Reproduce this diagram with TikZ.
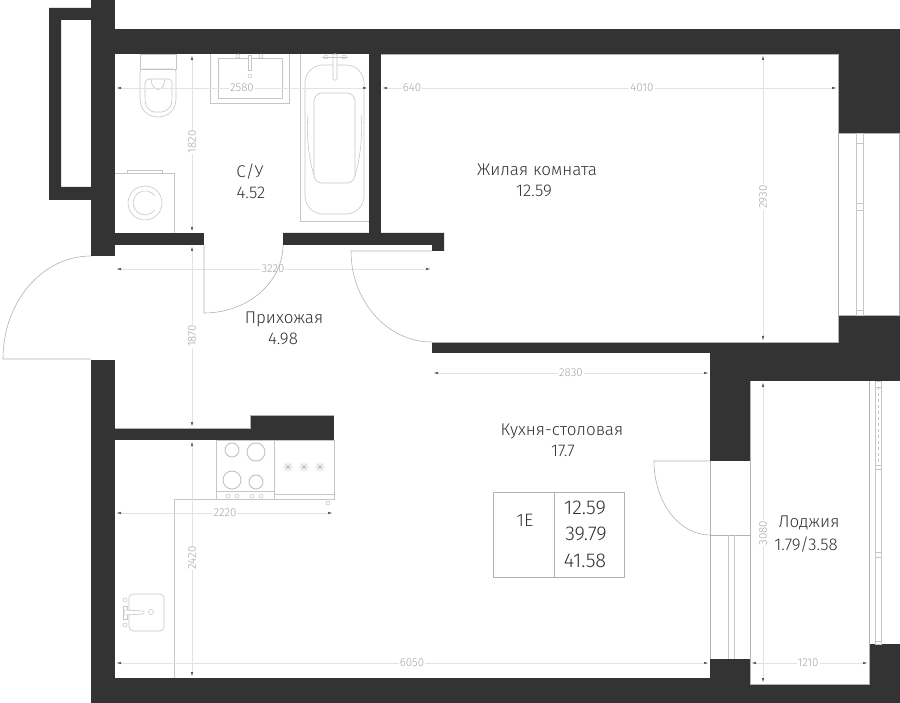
\documentclass[tikz,border=0pt]{standalone}
\usepackage{fontspec}
\setmainfont{Fira Sans}[UprightFont=* Light]
\usetikzlibrary{arrows.meta}
\definecolor{wallgray}{HTML}{333333}
\tikzset{
	wall/.style = {fill = wallgray, draw = none},
	edge/.style = {draw = gray!60, line width = 0.6pt},
	fix/.style = {draw = gray!45, line width = 0.6pt},
	dim/.style = {draw = gray!22, line width = 0.8pt, {Latex[length=5pt,width=2.5pt,color=gray!70!black]}-{Latex[length=5pt,width=2.5pt,color=gray!70!black]}},
	dimtext/.style = {fill = white, inner sep = 1pt, text = gray!70, font = \fontsize{11.5}{11.5}\selectfont},
	room/.style = {text = black!80, align = center, inner sep = 0pt, font = \fontsize{17}{17}\selectfont},
	cell/.style = {text = black!80, inner sep = 0pt, font = \fontsize{20}{20}\selectfont},
}
\newcommand{\hobstar}[2]{
	\draw[fix] (#1-5,#2) -- (#1+5,#2) (#1-3.5,#2-3.5) -- (#1+3.5,#2+3.5) (#1-3.5,#2+3.5) -- (#1+3.5,#2-3.5) (#1,#2-5) -- (#1,#2+5);
}
\begin{document}
\begin{tikzpicture}[x=1pt,y=-1pt]
	\useasboundingbox (0,0) rectangle (900,703);
	% walls
	\fill[wall] (91,0) rectangle (115,256);
	\fill[wall] (115,29) rectangle (900,54);
	\fill[wall] (838,54) rectangle (900,133);
	\fill[wall] (49,8) -- (91,8) -- (91,20) -- (61,20) -- (61,187) -- (91,187) -- (91,200) -- (49,200) -- cycle;
	\fill[wall] (115,233) rectangle (204,245);
	\fill[wall] (283,233) -- (444,233) -- (444,251) -- (432,251) -- (432,245) -- (283,245) -- cycle;
	\fill[wall] (369,54) rectangle (381,233);
	\fill[wall] (91,360) rectangle (115,703);
	\fill[wall] (115,678) rectangle (750,703);
	\fill[wall] (115,428) rectangle (334,440);
	\fill[wall] (250,415) rectangle (334,428);
	\fill[wall] (432,342) rectangle (838,353);
	\fill[wall] (710,353) rectangle (900,381);
	\fill[wall] (838,315) rectangle (900,381);
	\fill[wall] (710,381) rectangle (750,461);
	\fill[wall] (710,659) rectangle (750,678);
	\fill[wall] (869,644) rectangle (900,703);
	\fill[wall] (750,684) rectangle (869,703);
	% wall edges
	\draw[edge] (381,54) -- (838,54) -- (838,342) -- (432,342);
	\draw[edge] (115,428) -- (250,428) -- (250,415) -- (334,415);
	\draw[edge] (750,381) -- (750,684) -- (869,684) -- (869,381);
	% windows and balcony door
	\draw[edge] (838,133) -- (899,133) -- (899,315) -- (838,315);
	\draw[fix] (856,133) rectangle (863,315);
	\draw[fix] (856,143) -- (863,143) (856,203) -- (863,203) (856,210) -- (863,210) (856,310) -- (863,310);
	\draw[fix] (875,381) rectangle (881,644);
	\draw[fix] (875,465) -- (881,465) (875,469) -- (881,469) (875,552) -- (881,552) (875,557) -- (881,557) (875,641) -- (881,641);
	\draw[fix,dashed] (878,387) -- (878,462);
	\draw[fix] (875,387) -- (881,387);
	\draw[edge] (710,461) -- (710,659) (750,461) -- (750,659) (710,535) -- (750,535);
	\draw[fix] (728,535) -- (728,659) (734,535) -- (734,659);
	% toilet
	\draw[fix] (140,54) rectangle (176,69);
	\draw[fix,rounded corners=3pt] (140,99) -- (140,69) -- (176,69) -- (176,99);
	\draw[fix] (140,99) .. controls (140,110) and (148,117) .. (158,117) .. controls (168,117) and (176,110) .. (176,99);
	\draw[fix,rounded corners=4pt] (145,79) -- (145,100) .. controls (146,107) and (151,112) .. (158,112) .. controls (165,112) and (171,107) .. (172,100) -- (172,79) -- cycle;
	\draw[fix] (151,79) .. controls (152,93) and (164,93) .. (165,79);
	% wash basin
	\draw[fix] (210,54) -- (210,103) -- (289,103) -- (289,54);
	\draw[fix] (218,58) rectangle (282,98);
	\draw[fix,fill=white] (248,55) rectangle (251,70);
	\draw[fix] (250,76) circle (2);
	\draw[fix] (238,56) circle (2) (261,56) circle (2);
	% bath
	\draw[fix] (300,54) -- (300,221) -- (369,221);
	\draw[fix,rounded corners=18pt] (305,65) rectangle (364,214);
	\draw[fix,rounded corners=8pt] (314,93) rectangle (355,183);
	\draw[fix] (308,115) .. controls (306,135) and (309,160) .. (314,175) (361,115) .. controls (363,135) and (360,160) .. (355,175);
	\draw[fix,fill=white,rounded corners=1pt] (333,54) rectangle (337,80);
	\draw[fix] (322,57) -- (348,57);
	\draw[fix] (326,57) circle (2) (344,57) circle (2);
	% washing machine
	\draw[fix] (115,173) -- (174,173) -- (174,233);
	\draw[fix] (127,173) -- (127,170) -- (162,170) -- (162,173);
	\draw[fix] (145,203) circle (17);
	\draw[fix] (155,196) arc[start angle=-35,end angle=-325,radius=12];
	% stove and worktop
	\draw[fix] (216,440) rectangle (274,499);
	\draw[fix] (216,491) -- (274,491);
	\draw[fix,line width=1pt] (232,450) circle (7) (256,452) circle (9) (232,480) circle (9) (256,482) circle (7);
	\draw[fix] (228,496) circle (2) (237,496) circle (2) (252,496) circle (2) (261,496) circle (2);
	\draw[fix] (274,440) -- (334,440) -- (334,499) -- (274,499);
	\draw[fix] (274,494) -- (334,494);
	\hobstar{288}{467}
	\hobstar{304}{467}
	\hobstar{320}{467}
	\draw[fix] (328,503) circle (2);
	\draw[fix] (174,678) -- (174,499) -- (216,499);
	% kitchen sink
	\draw[fix,rounded corners=4pt] (129,594) rectangle (164,631);
	\draw[fix] (125,600) circle (2) (125,625) circle (2);
	\draw[fix] (151,612) circle (2.5);
	\draw[fix,fill=white] (123,606) rectangle (127,619);
	\draw[fix,fill=white,rounded corners=1pt] (124,610) -- (144,611) -- (144,614) -- (124,615) -- cycle;
	% dimensions
	\draw[dim] (116,88) -- (368,88);
	\draw[dim] (382,88) -- (837,88);
	\draw[dim] (192,55) -- (192,232);
	\draw[dim] (116,269) -- (431,269);
	\draw[dim] (192,246) -- (192,427);
	\draw[dim] (763,55) -- (763,341);
	\draw[dim] (433,373) -- (709,373);
	\draw[dim] (763,382) -- (763,683);
	\draw[dim] (751,663) -- (868,663);
	\draw[dim] (116,663) -- (709,663);
	\draw[dim] (116,513) -- (333,513);
	\draw[dim] (192,441) -- (192,677);
	\node (dimA) at (242,88)	[dimtext]	{2580};
	\node (dimB) at (412,88)	[dimtext]	{640};
	\node (dimC) at (642,88)	[dimtext]	{4010};
	\node (dimD) at (192,142)	[dimtext, rotate=90]	{1820};
	\node (dimE) at (273,269)	[dimtext]	{3220};
	\node (dimF) at (192,336)	[dimtext, rotate=90]	{1870};
	\node (dimG) at (763,197)	[dimtext, rotate=90]	{2930};
	\node (dimH) at (571,373)	[dimtext]	{2830};
	\node (dimI) at (763,533)	[dimtext, rotate=90]	{3080};
	\node (dimJ) at (808,663)	[dimtext]	{1210};
	\node (dimK) at (412,663)	[dimtext]	{6050};
	\node (dimL) at (225,513)	[dimtext]	{2220};
	\node (dimM) at (192,558)	[dimtext, rotate=90]	{2420};
	% doors
	\draw[edge] (91,359) -- (3,359) .. controls (3,302) and (42,256) .. (91,256);
	\draw[edge] (204,245) -- (204,313) .. controls (248,313) and (283,282) .. (283,245);
	\draw[edge] (432,251) -- (351,251) .. controls (351,301) and (387,342) .. (432,342);
	\draw[edge] (710,461) -- (654,461) .. controls (654,502) and (679,535) .. (710,535);
	% room labels
	\node (roomA) at (537,170)	[room]	{Жилая комната};
	\node (areaA) at (534,191)	[room]	{12.59};
	\node (roomB) at (250,172)	[room]	{С/У};
	\node (areaB) at (251,193)	[room]	{4.52};
	\node (roomC) at (284,319)	[room]	{Прихожая};
	\node (areaC) at (283,339)	[room]	{4.98};
	\node (roomD) at (562,431)	[room]	{Кухня-столовая};
	\node (areaD) at (563,451)	[room]	{17.7};
	\node (roomE) at (809,523)	[room]	{Лоджия};
	\node (areaE) at (806,545)	[room]	{1.79/3.58};
	% apartment table
	\draw[edge] (493,492) rectangle (624,577);
	\draw[edge] (554,492) -- (554,577);
	\node (type) at (525,520)	[cell, font=\fontsize{18}{18}\selectfont]	{1E};
	\node (livarea) at (585,508)	[cell]	{12.59};
	\node (netarea) at (586,534)	[cell]	{39.79};
	\node (totarea) at (585,561)	[cell]	{41.58};
\end{tikzpicture}
\end{document}
